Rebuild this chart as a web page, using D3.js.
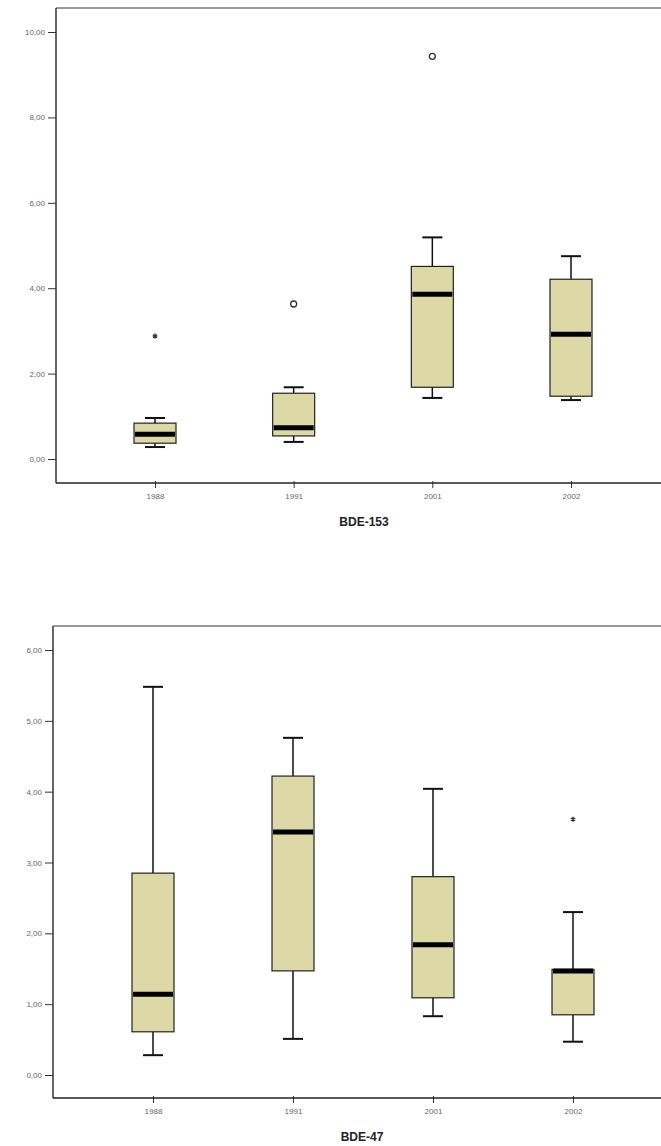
<!DOCTYPE html>
<html>
<head>
<meta charset="utf-8">
<script src="https://cdn.jsdelivr.net/npm/d3@7"></script>
<style>
  html, body { margin: 0; padding: 0; background: #fff; }
  svg { display: block; }
  text { font-family: "Liberation Sans", Arial, sans-serif; }
</style>
</head>
<body>
<svg id="chart" width="661" height="1146"></svg>
<script>
// ---- data ----
const categories = ["1988", "1991", "2001", "2002"];

// BDE-153
const bde153Title = "BDE-153";
const bde153Ticks = [0, 2, 4, 6, 8, 10];
const bde153WhiskerLow  = [0.28, 0.40, 1.43, 1.38];
const bde153Q1          = [0.37, 0.54, 1.68, 1.47];
const bde153Median      = [0.58, 0.73, 3.86, 2.92];
const bde153Q3          = [0.84, 1.54, 4.51, 4.21];
const bde153WhiskerHigh = [0.96, 1.68, 5.19, 4.75];
const bde153Outliers    = [ {cat: "1988", value: 2.88, type: "extreme"},
                            {cat: "1991", value: 3.63, type: "outlier"},
                            {cat: "2001", value: 9.43, type: "outlier"} ];

// BDE-47
const bde47Title = "BDE-47";
const bde47Ticks = [0, 1, 2, 3, 4, 5, 6];
const bde47WhiskerLow  = [0.28, 0.51, 0.83, 0.47];
const bde47Q1          = [0.61, 1.47, 1.09, 0.85];
const bde47Median      = [1.14, 3.43, 1.84, 1.47];
const bde47Q3          = [2.85, 4.22, 2.80, 1.49];
const bde47WhiskerHigh = [5.48, 4.76, 4.04, 2.30];
const bde47Outliers    = [ {cat: "2002", value: 3.61, type: "extreme"} ];

// ---- drawing ----
const svg = d3.select("#chart");
const fmt = d => d.toFixed(2).replace(".", ",");

function panel(cfg) {
  const g = svg.append("g");
  const x = d3.scalePoint().domain(categories).range(cfg.xRange);
  const y = d3.scaleLinear().domain(cfg.yDomain).range(cfg.yRange);
  const boxW = 42, capW = 20;

  // frame top line
  g.append("line")
    .attr("x1", cfg.left).attr("x2", 661)
    .attr("y1", cfg.top).attr("y2", cfg.top)
    .attr("stroke", "#777").attr("stroke-width", 1.5);

  // left axis
  const yAxis = d3.axisLeft(y).tickValues(cfg.ticks).tickFormat(fmt).tickSize(8).tickPadding(3);
  const ya = g.append("g").attr("transform", `translate(${cfg.left},0)`).call(yAxis);
  ya.select(".domain").remove();
  ya.selectAll(".tick line").attr("stroke", "#333").attr("stroke-width", 1);
  ya.selectAll(".tick text").attr("fill", "#666").style("font-size", "8px");
  g.append("line")
    .attr("x1", cfg.left).attr("x2", cfg.left)
    .attr("y1", cfg.top).attr("y2", cfg.bottom)
    .attr("stroke", "#333").attr("stroke-width", 1.5);

  // bottom axis
  const xAxis = d3.axisBottom(x).tickSize(7).tickPadding(3);
  const xa = g.append("g").attr("transform", `translate(0,${cfg.bottom})`).call(xAxis);
  xa.select(".domain").remove();
  xa.selectAll(".tick line").attr("stroke", "#333").attr("transform", "translate(0,-2)");
  xa.selectAll(".tick text").attr("fill", "#666").style("font-size", "8px");
  g.append("line")
    .attr("x1", cfg.left).attr("x2", 661)
    .attr("y1", cfg.bottom).attr("y2", cfg.bottom)
    .attr("stroke", "#222").attr("stroke-width", 1.5);

  // title
  g.append("text")
    .attr("x", cfg.titleX).attr("y", cfg.titleY)
    .attr("text-anchor", "middle")
    .style("font-size", "12px").style("font-weight", "bold")
    .attr("fill", "#222")
    .text(cfg.title);

  const rows = categories.map((c, i) => ({
    cat: c, lo: cfg.lo[i], q1: cfg.q1[i], med: cfg.med[i], q3: cfg.q3[i], hi: cfg.hi[i]
  }));

  const b = g.selectAll(".box").data(rows).enter().append("g");
  // whiskers
  b.append("line")
    .attr("x1", d => x(d.cat)).attr("x2", d => x(d.cat))
    .attr("y1", d => y(d.hi)).attr("y2", d => y(d.q3))
    .attr("stroke", "#111").attr("stroke-width", 1.5);
  b.append("line")
    .attr("x1", d => x(d.cat)).attr("x2", d => x(d.cat))
    .attr("y1", d => y(d.q1)).attr("y2", d => y(d.lo))
    .attr("stroke", "#111").attr("stroke-width", 1.5);
  b.append("line")
    .attr("x1", d => x(d.cat) - capW / 2).attr("x2", d => x(d.cat) + capW / 2)
    .attr("y1", d => y(d.hi)).attr("y2", d => y(d.hi))
    .attr("stroke", "#111").attr("stroke-width", 2);
  b.append("line")
    .attr("x1", d => x(d.cat) - capW / 2).attr("x2", d => x(d.cat) + capW / 2)
    .attr("y1", d => y(d.lo)).attr("y2", d => y(d.lo))
    .attr("stroke", "#111").attr("stroke-width", 2);
  // box
  b.append("rect")
    .attr("x", d => x(d.cat) - boxW / 2).attr("width", boxW)
    .attr("y", d => y(d.q3)).attr("height", d => y(d.q1) - y(d.q3))
    .attr("fill", "#dcd9a6").attr("stroke", "#222").attr("stroke-width", 1.2);
  // median
  b.append("line")
    .attr("x1", d => x(d.cat) - boxW / 2 + 1).attr("x2", d => x(d.cat) + boxW / 2 - 1)
    .attr("y1", d => y(d.med)).attr("y2", d => y(d.med))
    .attr("stroke", "#000").attr("stroke-width", 5);

  // outliers
  cfg.outliers.forEach(o => {
    if (o.type === "outlier") {
      g.append("circle")
        .attr("cx", x(o.cat)).attr("cy", y(o.value)).attr("r", 3)
        .attr("fill", "none").attr("stroke", "#333").attr("stroke-width", 1.3);
    } else {
      g.append("path")
        .attr("transform", `translate(${x(o.cat)},${y(o.value)})`)
        .attr("d", d3.symbol(d3.symbolAsterisk, 18)())
        .attr("fill", "none").attr("stroke", "#333").attr("stroke-width", 1.4);
    }
  });
}

panel({
  title: bde153Title, ticks: bde153Ticks,
  lo: bde153WhiskerLow, q1: bde153Q1, med: bde153Median, q3: bde153Q3, hi: bde153WhiskerHigh,
  outliers: bde153Outliers,
  xRange: [155, 571], yDomain: [0, 10], yRange: [459, 32],
  left: 56, top: 8, bottom: 483, titleX: 364, titleY: 526
});

panel({
  title: bde47Title, ticks: bde47Ticks,
  lo: bde47WhiskerLow, q1: bde47Q1, med: bde47Median, q3: bde47Q3, hi: bde47WhiskerHigh,
  outliers: bde47Outliers,
  xRange: [153, 573], yDomain: [0, 6], yRange: [1075, 650],
  left: 53, top: 626, bottom: 1098, titleX: 362, titleY: 1141
});
</script>
</body>
</html>
